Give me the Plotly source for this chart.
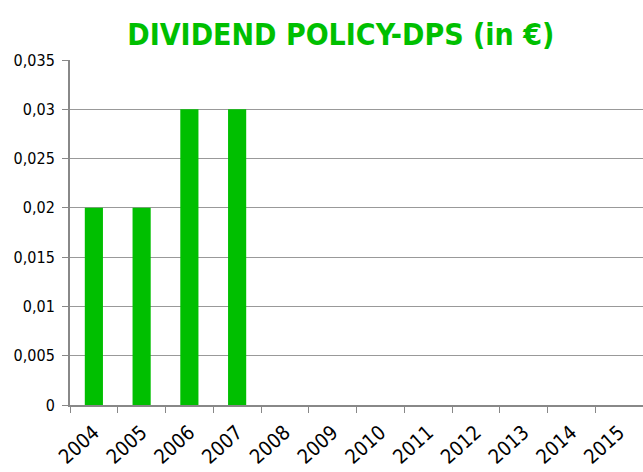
import plotly.graph_objects as go

years = ["2004", "2005", "2006", "2007", "2008", "2009", "2010", "2011", "2012", "2013", "2014", "2015"]
dps = [0.02, 0.02, 0.03, 0.03, 0, 0, 0, 0, 0, 0, 0, 0]

fnt = "DejaVu Sans Condensed, Liberation Sans Narrow, sans-serif"
fig = go.Figure(go.Bar(x=years, y=dps, marker=dict(color="#00bf00", line=dict(width=0)), width=0.38))

fig.update_layout(
    width=643, height=472,
    margin=dict(l=70, r=0, t=60, b=67),
    paper_bgcolor="white", plot_bgcolor="white",
    separators=",.",
    showlegend=False,
    title=dict(text="<b>DIVIDEND POLICY-DPS (in €)</b>", x=0.53, xanchor="center", y=0.926, yanchor="middle",
               font=dict(family=fnt, size=30, color="#00bf00")),
    font=dict(family=fnt, color="#000000"),
)
fig.update_xaxes(
    type="category", range=[-0.5, 11.5], automargin=False,
    tickson="boundaries", ticks="outside", ticklen=6, tickcolor="#888888", tickwidth=1,
    showline=True, linecolor="#888888", linewidth=2,
    tickangle=-42, tickfont=dict(size=20), ticklabelstandoff=6,
    showgrid=False,
)
fig.update_yaxes(
    range=[0, 0.035], dtick=0.005, tick0=0, automargin=False,
    ticks="outside", ticklen=6, tickcolor="#888888",
    showline=True, linecolor="#888888", linewidth=2,
    showgrid=True, gridcolor="#999999", gridwidth=1,
    tickfont=dict(size=16), zeroline=False, ticklabelstandoff=4,
)
fig.write_html("out.html", config={"displayModeBar": False},
               post_script="document.body.style.margin='0';document.body.style.overflow='hidden';")
